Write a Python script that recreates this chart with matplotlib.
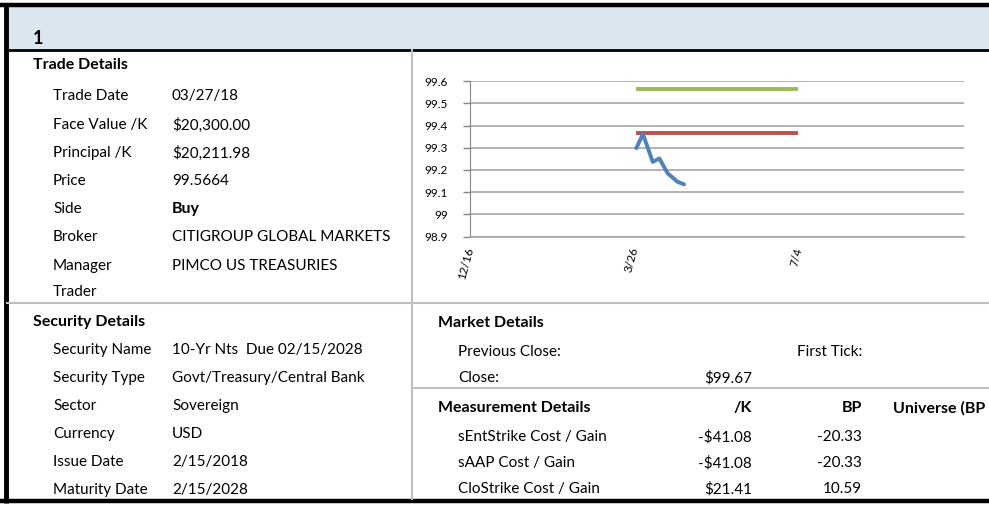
import numpy as np
import pandas as pd
import matplotlib
matplotlib.use("Agg")
import matplotlib.pyplot as plt

plt.rcParams['font.family'] = ['Lato', 'DejaVu Sans']

# Table content
trade_labels = ['Trade Date', 'Face Value /K', 'Principal /K', 'Price', 'Side',
                'Broker', 'Manager', 'Trader']
trade_values = ['03/27/18', '$20,300.00', '$20,211.98', '99.5664', 'Buy',
                'CITIGROUP GLOBAL MARKETS', 'PIMCO US TREASURIES', '']

security_labels = ['Security Name', 'Security Type', 'Sector', 'Currency',
                   'Issue Date', 'Maturity Date']
security_values = ['10-Yr Nts  Due 02/15/2028', 'Govt/Treasury/Central Bank',
                   'Sovereign', 'USD', '2/15/2018', '2/15/2028']

measure_labels = ['sEntStrike Cost / Gain', 'sAAP Cost / Gain', 'CloStrike Cost / Gain']
measure_k = ['-$41.08', '-$41.08', '$21.41']
measure_bp = ['-20.33', '-20.33', '10.59']

# Chart data
price_dates = pd.to_datetime(['2018-03-27', '2018-03-31', '2018-04-06', '2018-04-10',
                              '2018-04-15', '2018-04-21', '2018-04-25'])
price_values = [99.298, 99.362, 99.236, 99.252, 99.185, 99.147, 99.135]
ref_dates = pd.to_datetime(['2018-03-27', '2018-07-03'])
trade_price = 99.5664
strike_price = 99.365
axis_start = pd.Timestamp('2017-12-16')
axis_end = pd.Timestamp('2018-10-12')
tick_dates = pd.to_datetime(['2017-12-16', '2018-03-26', '2018-07-04'])
tick_labels = ['12/16', '3/26', '7/4']
y_ticks = [98.9, 99.0, 99.1, 99.2, 99.3, 99.4, 99.5, 99.6]
y_tick_labels = ['98.9', '99', '99.1', '99.2', '99.3', '99.4', '99.5', '99.6']

W, H = 989, 505
fig = plt.figure(figsize=(W / 100, H / 100), dpi=100)

# background layer in pixel coordinates
bg = fig.add_axes([0, 0, 1, 1])
bg.set_xlim(0, W)
bg.set_ylim(H, 0)
bg.axis('off')

bg.add_patch(plt.Rectangle((7, 6.5), W - 7, 42, color='#DCE6F1', lw=0))
bg.plot([0, W], [5, 5], color='black', lw=3.2, solid_capstyle='butt')
bg.plot([7, W], [49.5, 49.5], color='black', lw=2, solid_capstyle='butt')
bg.plot([0, W], [500.5, 500.5], color='black', lw=3.2, solid_capstyle='butt')
bg.plot([5.5, 5.5], [3, 503], color='black', lw=3.5, solid_capstyle='butt')
gray = '#BFBFBF'
bg.plot([412, 412], [50, 499], color=gray, lw=1.5)
bg.plot([7, W], [303, 303], color=gray, lw=1.5)
bg.plot([412, W], [388, 388], color=gray, lw=1.5)

fs = 11
fb = 11.5
bg.text(33, 38, '1', fontsize=13, fontweight='bold', va='center')

bg.text(33, 65, 'Trade Details', fontsize=fb, fontweight='bold', va='center')
trade_y = [96, 125, 153, 181, 209, 237, 266, 292]
for lab, val, y in zip(trade_labels, trade_values, trade_y):
    bg.text(53, y, lab, fontsize=fs, va='center')
    if val == 'Buy':
        bg.text(172, y, val, fontsize=fb, va='center', fontweight='bold')
    else:
        bg.text(172, y, val, fontsize=fs, va='center')

bg.text(33, 322, 'Security Details', fontsize=fb, fontweight='bold', va='center')
sec_y = [350, 378, 406, 434, 462, 490]
for lab, val, y in zip(security_labels, security_values, sec_y):
    bg.text(53, y, lab, fontsize=fs, va='center')
    bg.text(172, y, val, fontsize=fs, va='center')

hx, lx, c1, c2, c3 = 438, 458, 752, 862, 893
bg.text(hx, 323, 'Market Details', fontsize=fb, fontweight='bold', va='center')
bg.text(lx, 352, 'Previous Close:', fontsize=fs, va='center')
bg.text(c2, 352, 'First Tick:', fontsize=fs, va='center', ha='right')
bg.text(lx, 378, 'Close:', fontsize=fs, va='center')
bg.text(c1, 378, '$99.67', fontsize=fs, va='center', ha='right')

bg.text(hx, 408, 'Measurement Details', fontsize=fb, fontweight='bold', va='center')
bg.text(c1, 408, '/K', fontsize=fb, fontweight='bold', va='center', ha='right')
bg.text(c2, 408, 'BP', fontsize=fb, fontweight='bold', va='center', ha='right')
# the column header is cut at the sheet edge in the source
bg.text(c3, 408, 'Universe (BP', fontsize=fb, fontweight='bold', va='center')
meas_y = [437, 463, 489]
for lab, k, bp, y in zip(measure_labels, measure_k, measure_bp, meas_y):
    bg.text(lx, y, lab, fontsize=fs, va='center')
    bg.text(c1, y, k, fontsize=fs, va='center', ha='right')
    bg.text(c2, y, bp, fontsize=fs, va='center', ha='right')

# price chart
ax = fig.add_axes([470 / W, (H - 236.6) / H, 494 / W, 155.5 / H])
ax.plot(ref_dates, [trade_price] * 2, color='#9BBB59', lw=2.8, solid_capstyle='butt')
ax.plot(ref_dates, [strike_price] * 2, color='#C0504D', lw=2.8, solid_capstyle='butt')
ax.plot(price_dates, price_values, color='#4F81BD', lw=2.8,
        solid_joinstyle='round', solid_capstyle='round')

ax.set_xlim(axis_start, axis_end)
ax.set_ylim(98.9, 99.6)
ax.set_yticks(y_ticks)
ax.set_yticklabels(y_tick_labels, fontsize=8.5)
ax.set_xticks(tick_dates)
ax.set_xticklabels(tick_labels, fontsize=8.5, rotation=75, ha='right', va='center',
                   rotation_mode='anchor')
ax.tick_params(axis='x', length=0, pad=8)
ax.tick_params(axis='y', length=5, color='#868686', width=1, pad=11)
ax.grid(axis='y', color='#A6A6A6', lw=1.2)
ax.set_axisbelow(True)
for s in ['top', 'right']:
    ax.spines[s].set_visible(False)
ax.spines['left'].set_color('#868686')
ax.spines['bottom'].set_color('#A6A6A6')
ax.spines['bottom'].set_linewidth(1.2)
ax.patch.set_alpha(0)

fig.savefig('out.png', dpi=100)
